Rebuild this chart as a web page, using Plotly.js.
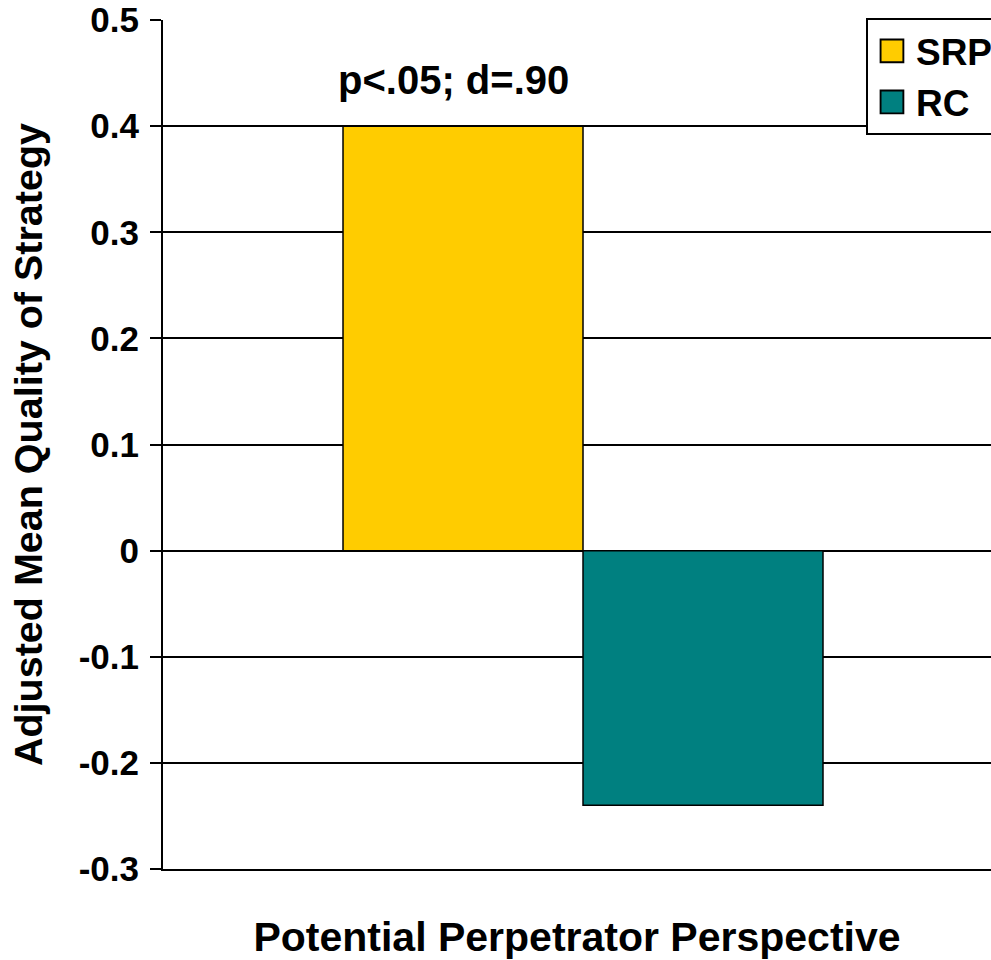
<!DOCTYPE html>
<html>
<head>
<meta charset="utf-8">
<script src="https://cdn.plot.ly/plotly-3.0.1.min.js"></script>
<style>html,body{margin:0;padding:0;background:#fff;}#chart{width:991px;height:960px;}</style>
</head>
<body>
<div id="chart"></div>
<script>
var category = ["Potential Perpetrator Perspective"];
var seriesNames = ["SRP", "RC"];
var srpValues = [0.4];
var rcValues = [-0.24];
var yTicks = [-0.3, -0.2, -0.1, 0, 0.1, 0.2, 0.3, 0.4, 0.5];
var yTickLabels = ["-0.3", "-0.2", "-0.1", "0", "0.1", "0.2", "0.3", "0.4", "0.5"];
var annotationText = "p<.05; d=.90";

var FONT = "Arial, 'Liberation Sans', sans-serif";

var traces = [
  {type: "bar", name: seriesNames[0], x: [0], y: srpValues,
   marker: {color: "#FFCC00", line: {color: "#000", width: 1.5}}},
  {type: "bar", name: seriesNames[1], x: [0], y: rcValues,
   marker: {color: "#008080", line: {color: "#000", width: 1.5}}}
];

var layout = {
  width: 991, height: 960,
  margin: {l: 163, r: 0, t: 20, b: 91, autoexpand: false},
  paper_bgcolor: "#fff", plot_bgcolor: "#fff",
  font: {family: FONT, color: "#000", weight: "bold"},
  barmode: "group",
  bargap: 0.4286,
  bargroupgap: 0,
  showlegend: true,
  legend: {x: 0.849, y: 1.002, xanchor: "left", yanchor: "top",
           bordercolor: "#000", borderwidth: 2, bgcolor: "#fff",
           font: {size: 37, family: FONT, weight: "bold"},
           itemwidth: 38,
           tracegroupgap: 0, traceorder: "normal"},
  xaxis: {range: [-0.5, 0.4857], showticklabels: false, ticks: "",
          showgrid: false, zeroline: false, showline: true, linecolor: "#000", linewidth: 2,
          tickvals: [], fixedrange: true,
          title: {text: category[0], font: {size: 41, family: FONT, weight: "bold"}, standoff: 56}},
  yaxis: {range: [-0.3, 0.5], tickvals: yTicks, ticktext: yTickLabels,
          ticks: "outside", ticklen: 11, tickwidth: 2, tickcolor: "#000",
          showline: true, linecolor: "#000", linewidth: 2,
          showgrid: true, gridcolor: "#000", gridwidth: 2,
          zeroline: true, zerolinecolor: "#000", zerolinewidth: 2,
          tickfont: {size: 35, family: FONT, weight: "bold"},
          ticklabelstandoff: 4,
          title: {text: "Adjusted Mean Quality of Strategy", font: {size: 39.5, family: FONT, weight: "bold"}, standoff: 24}},
  annotations: [{text: annotationText, xref: "x", yref: "y", x: -0.1536, y: 0.4434,
                 xanchor: "center", yanchor: "middle", showarrow: false,
                 font: {size: 40, family: FONT, weight: "bold", color: "#000"}}]
};

Plotly.newPlot("chart", traces, layout, {displayModeBar: false, staticPlot: true}).then(function(gd){
  var pts = gd.querySelectorAll(".legend .legendpoints path");
  pts.forEach(function(p){
    var t = p.getAttribute("transform") || "";
    p.setAttribute("transform", t + " scale(1.9)");
    p.style.strokeWidth = "1px";
  });
});
</script>
</body>
</html>
